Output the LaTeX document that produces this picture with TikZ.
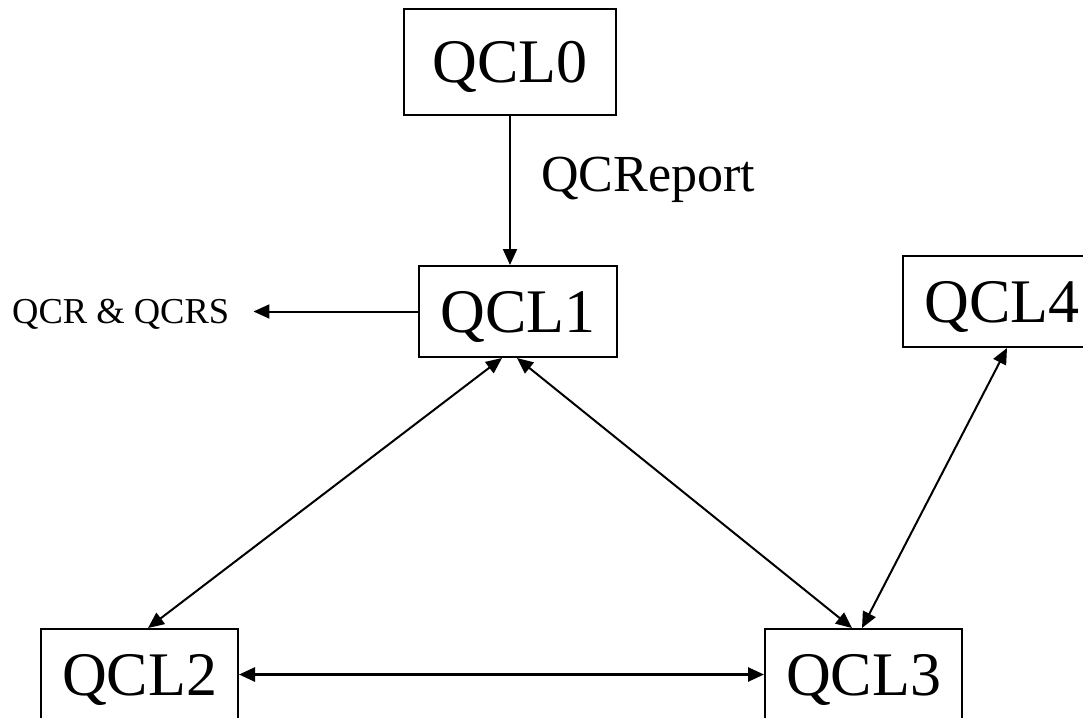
\documentclass[tikz,border=0pt]{standalone}
\usepackage{fontspec}
\setmainfont{Liberation Serif}
\usetikzlibrary{arrows.meta}
\begin{document}
\begin{tikzpicture}[x=1pt,y=-1pt,
  qbox/.style={draw, line width=2pt, inner sep=0pt, minimum width=198pt, minimum height=91pt,
    font=\fontsize{62pt}{62pt}\selectfont, text height=41pt, text depth=0pt},
  tipa/.tip={Triangle[length=16pt,width=14pt]},
  link/.style={line width=2pt, tipa-tipa},
  onearr/.style={line width=2pt, -tipa},
]
\useasboundingbox (0,0) rectangle (1083,717);
\clip (0,0) rectangle (1083,717);

\node[qbox, minimum width=212pt, minimum height=105pt] (QCL0) at (510,62) {QCL0};
\node[qbox] (QCL1) at (518,311.5) {QCL1};
\node[qbox] (QCL4) at (1002,301.5) {QCL4};
\node[qbox, minimum width=197pt] (QCL2) at (139.5,674.5) {QCL2};
\node[qbox, minimum width=197pt] (QCL3) at (863.5,674.5) {QCL3};

\node[anchor=base west, inner sep=0pt, font=\fontsize{52pt}{52pt}\selectfont] (qcrep) at (541,191) {QCReport};
\node[anchor=base west, inner sep=0pt, font=\fontsize{36.5pt}{36.5pt}\selectfont,
  text height=24pt, text depth=0pt] (qcrs) at (12,323) {QCR \& QCRS};

\draw[onearr] (QCL0.south) -- (QCL0.south |- QCL1.north);
\draw[onearr, shorten >=24pt] (QCL1.west) -- (QCL1.west -| qcrs.east);
\draw[link] ([xshift=-16pt]QCL1.south) -- ([xshift=8.5pt]QCL2.north);
\draw[link] ([xshift=-1pt]QCL1.south) -- ([xshift=-11.5pt]QCL3.north);
\draw[link] ([xshift=5pt]QCL4.south) -- ([xshift=-1.5pt]QCL3.north);
\draw[link, line width=2.6pt] (QCL2.east) -- (QCL3.west);
\end{tikzpicture}
\end{document}
